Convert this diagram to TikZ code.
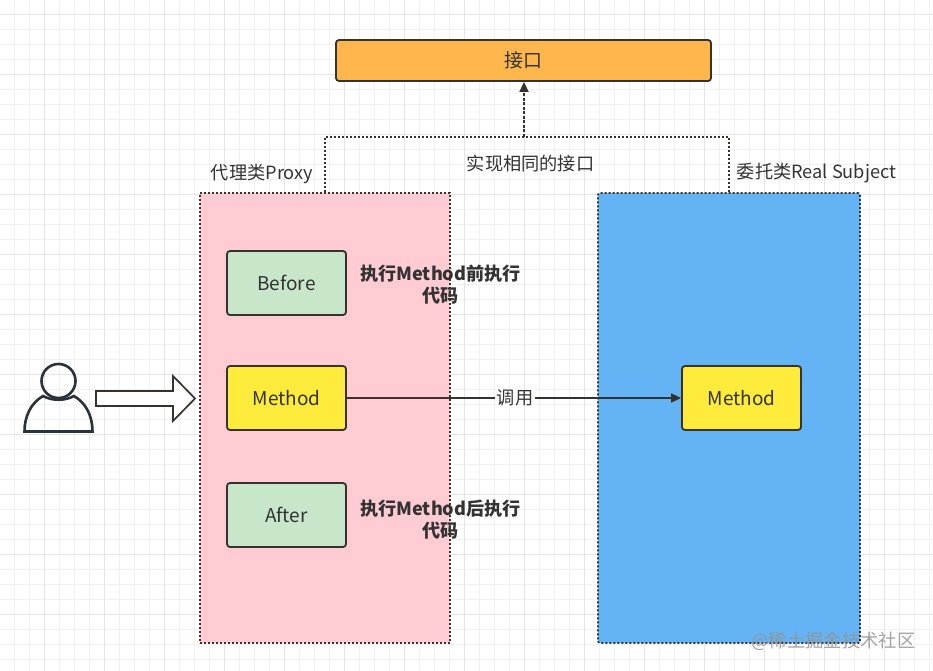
\documentclass[tikz,border=0pt]{standalone}
\usepackage{fontspec}
\setmainfont{Noto Sans CJK SC}
\usetikzlibrary{arrows.meta}
\definecolor{ink}{HTML}{333333}
\definecolor{edge}{HTML}{36322E}
\definecolor{usercol}{HTML}{2B323C}
\definecolor{pinkfill}{HTML}{FFCCD4}
\definecolor{bluefill}{HTML}{63B3F5}
\definecolor{greenfill}{HTML}{C8E6C9}
\definecolor{yellowfill}{HTML}{FFEB3B}
\definecolor{orangefill}{HTML}{FFB74D}
\definecolor{gridminor}{HTML}{F1F1F1}
\definecolor{gridmajor}{HTML}{E5E5E5}
\tikzset{
  x=1pt,y=-1pt,
  lbl/.style={text=ink,font=\fontsize{18.2}{21}\selectfont,inner sep=0pt},
  boldlbl/.style={text=ink,font=\fontsize{18.1}{22}\selectfont\bfseries,inner sep=0pt,align=center},
  card/.style={draw=edge,line width=1.8pt,rounded corners=3pt,minimum width=119pt,minimum height=64pt,text=ink,font=\fontsize{19}{21}\selectfont,inner sep=0pt},
  panel/.style={draw=edge,line width=1.7pt,dash pattern=on 2pt off 2pt,inner sep=0pt},
  link/.style={draw=edge,line width=1.7pt,dash pattern=on 2pt off 2pt},
  tip/.style={-{Triangle[length=10pt,width=9pt]}},
  gridline/.style={line width=.8pt},
  usershape/.style={draw=usercol,line width=2.6pt},
}
\begin{document}
\begin{tikzpicture}
\useasboundingbox (0,0) rectangle (933,671);
\fill[white] (0,0) rectangle (933,671);
% grid
\foreach \i in {0,...,62}{\draw[gridminor,gridline] ({14.7+15*\i},0) -- ({14.7+15*\i},671);}
\foreach \i in {0,...,44}{\draw[gridminor,gridline] (0,{14.7+15*\i}) -- (933,{14.7+15*\i});}
\foreach \i in {0,...,14}{\draw[gridmajor,gridline] ({44.7+60*\i},0) -- ({44.7+60*\i},671);}
\foreach \i in {0,...,10}{\draw[gridmajor,gridline] (0,{14.7+60*\i}) -- (933,{14.7+60*\i});}
% panels
\node[panel,fill=pinkfill,minimum width=250pt,minimum height=450pt] (proxy) at (325,418) {};
\node[panel,fill=bluefill,minimum width=262pt,minimum height=450pt,rounded corners=1.5pt] (real) at (729,418) {};
% cards
\node[card,fill=orangefill,minimum width=375pt,minimum height=41pt] (iface) at (523.5,60.5) {接口};
\node[card,fill=greenfill] (before) at (286.5,283) {Before};
\node[card,fill=yellowfill] (method) at (286.5,398) {Method};
\node[card,fill=greenfill] (after) at (286.5,515) {After};
\node[card,fill=yellowfill] (rmethod) at (741.5,398) {Method};
% implements connector
\coordinate (top) at (524,137);
\draw[link] (proxy.north) -- (proxy.north |- top) -- (real.north |- top) -- (real.north);
\draw[link,tip,dash pattern=on 3pt off 1.5pt] (top) -- (iface.south -| top);
\node[lbl] (same) at (530.5,163.5) {实现相同的接口};
\node[lbl] (proxylbl) at (262,173.5) {代理类Proxy};
\node[lbl] (reallbl) at (816.5,173.5) {委托类Real Subject};
% call
\draw[draw=edge,line width=1.7pt,tip] (method.east) -- (rmethod.west)
  node[pos=.503,fill=white,lbl,inner xsep=2pt,inner ysep=1pt] (call) {调用};
% notes
\node[boldlbl] (n1) at (440.5,284.5) {执行Method前执行\\代码};
\node[boldlbl] (n2) at (440.5,519.5) {执行Method后执行\\代码};
% user
\draw[usershape] (24.5,431.5) .. controls (24.5,416) and (31,403) .. (43,396)
  .. controls (52,401) and (65,401) .. (74,396)
  .. controls (86,403) and (92.5,416) .. (92.5,431.5) -- cycle;
\draw[usershape] (58.5,381) circle[radius=17];
% big arrow
\draw[draw=edge,line width=1.7pt,fill=white] (96,391) -- (173,391) -- (173,376) -- (195,398.5) -- (173,421) -- (173,406) -- (96,406) -- cycle;
% watermark
\node[text=gray!85,opacity=.85,font=\fontsize{18.3}{21}\selectfont,inner sep=0pt] (mark) at (833.5,641) {@稀土掘金技术社区};
\end{tikzpicture}
\end{document}
